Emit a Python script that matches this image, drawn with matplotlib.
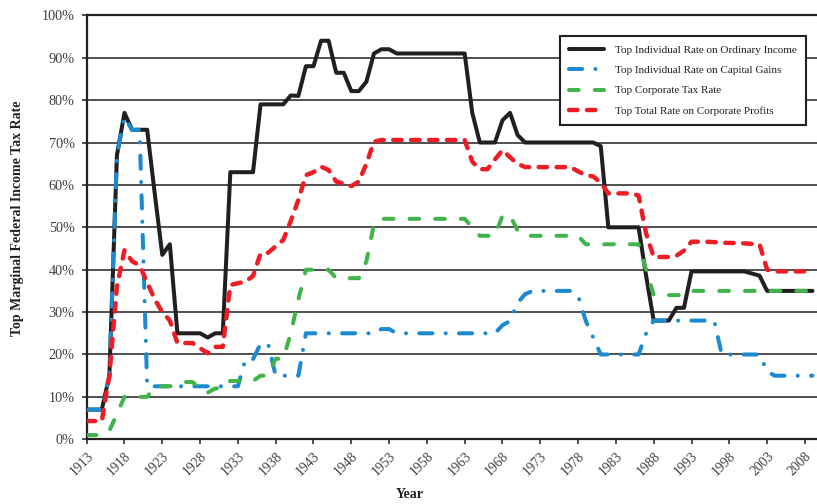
import matplotlib
matplotlib.use("Agg")
import matplotlib.pyplot as plt

plt.rcParams["font.family"] = ["Liberation Serif", "DejaVu Serif"]
plt.rcParams["lines.scale_dashes"] = False

years = list(range(1913, 2010))

# top individual rate on ordinary income, 1913-2009
ordinary = [
    7, 7, 7, 15, 67, 77, 73, 73, 73, 58,                        # 1913-1922
    43.5, 46, 25, 25, 25, 25, 24, 25, 25, 63,                   # 1923-1932
    63, 63, 63, 79, 79, 79, 79, 81.1, 81, 88,                   # 1933-1942
    88, 94, 94, 86.45, 86.45, 82.13, 82.13, 84.36, 91, 92,      # 1943-1952
    92, 91, 91, 91, 91, 91, 91, 91, 91, 91,                     # 1953-1962
    91, 77, 70, 70, 70, 75.25, 77, 71.75, 70, 70,               # 1963-1972
    70, 70, 70, 70, 70, 70, 70, 70, 69.13, 50,                  # 1973-1982
    50, 50, 50, 50, 38.5, 28, 28, 28, 31, 31,                   # 1983-1992
    39.6, 39.6, 39.6, 39.6, 39.6, 39.6, 39.6, 39.6, 39.1, 38.6, # 1993-2002
    35, 35, 35, 35, 35, 35, 35,                                 # 2003-2009
]

# top individual rate on capital gains
cap_gains = [
    7, 7, 7, 15, 67, 76, 73, 73, 12.5, 12.5,
    12.5, 12.5, 12.5, 12.5, 12.5, 12.5, 12.5, 12.5, 12.5, 12.5,
    12.5, 18.9, 18.9, 22.5, 22.5, 15, 15, 15, 15, 25,
    25, 25, 25, 25, 25, 25, 25, 25, 25, 26,
    26, 25, 25, 25, 25, 25, 25, 25, 25, 25,
    25, 25, 25, 25, 25, 26.9, 27.9, 32.2, 34.25, 35,
    35, 35, 35, 35, 35, 33.85, 28, 24, 20, 20,
    20, 20, 20, 20, 25, 28, 28, 28, 28, 28,
    28, 28, 28, 28, 20, 20, 20, 20, 20, 20,
    16, 15, 15, 15, 15, 15, 15,
]

# top corporate tax rate
corporate = [
    1, 1, 1, 2, 6, 10, 10, 10, 10, 12.5,
    12.5, 12.5, 13, 13.5, 13.5, 12, 11, 12, 12, 13.75,
    13.75, 13.75, 13.75, 15, 15, 19, 19, 25, 33, 40,
    40, 40, 40, 38, 38, 38, 38, 42, 50.75, 52,
    52, 52, 52, 52, 52, 52, 52, 52, 52, 52,
    52, 50, 48, 48, 48, 52.8, 52.8, 49.2, 48, 48,
    48, 48, 48, 48, 48, 48, 46, 46, 46, 46,
    46, 46, 46, 46, 40, 34, 34, 34, 34, 34,
    35, 35, 35, 35, 35, 35, 35, 35, 35, 35,
    35, 35, 35, 35, 35, 35, 35,
]

# top total rate on corporate profits
total_corp = [
    4.3, 4.3, 4.3, 15, 36, 44.6, 42, 41, 37, 33,
    30, 28, 22.7, 22.7, 22.7, 21.5, 20.3, 21.8, 21.8, 36.4,
    36.8, 37.2, 38.5, 43.8, 44, 45.5, 47, 51.5, 56.5, 62.3,
    63, 64.3, 63.5, 60.8, 60.3, 59.7, 60.8, 65, 70.2, 70.6,
    70.6, 70.6, 70.6, 70.6, 70.6, 70.6, 70.6, 70.6, 70.6, 70.6,
    70.6, 65.5, 63.7, 63.7, 66, 68.2, 66.5, 65, 64.2, 64.2,
    64.2, 64.2, 64.2, 64.2, 64.2, 63.2, 62.3, 62, 60.5, 58,
    58, 58, 58, 57.5, 48.5, 43, 43, 43, 43.3, 44.5,
    46.6, 46.6, 46.6, 46.5, 46.4, 46.3, 46.3, 46.2, 46.1, 46,
    40, 39.6, 39.6, 39.6, 39.6, 39.6, 39.6,
]

labels = ["Top Individual Rate on Ordinary Income",
          "Top Individual Rate on Capital Gains",
          "Top Corporate Tax Rate",
          "Top Total Rate on Corporate Profits"]

fig = plt.figure(figsize=(8.17, 5.04), dpi=100)
ax = fig.add_axes([0.1061, 0.1284, 0.8939, 0.8412])

ax.plot(years, ordinary, color="#231f20", lw=2.9, solid_capstyle="round",
        solid_joinstyle="round", label=labels[0], zorder=3)
ax.plot(years, cap_gains, color="#1b8ad0", lw=2.9,
        linestyle=(0, (9.5, 9.5, 0.1, 9.5)), dash_capstyle="round",
        dash_joinstyle="round", label=labels[1], zorder=4)
ax.plot(years, corporate, color="#40b44a", lw=2.9,
        linestyle=(0, (7.0, 11.5)), dash_capstyle="round",
        dash_joinstyle="round", label=labels[2], zorder=5)
ax.plot(years, total_corp, color="#ee1c25", lw=3.2,
        linestyle=(0, (6.1, 6.8)), dash_capstyle="round",
        dash_joinstyle="round", label=labels[3], zorder=6)

ax.set_xlim(1913, 2009.6)
ax.set_ylim(0, 100)
ax.set_yticks(range(0, 101, 10))
ax.set_yticklabels([f"{v}%" for v in range(0, 101, 10)], fontsize=10.3,
                   color="#404040")
ax.set_xticks(range(1913, 2009, 5))
ax.set_xticklabels([str(y) for y in range(1913, 2009, 5)], fontsize=9.8,
                   color="#404040", rotation=45, ha="right", va="top",
                   rotation_mode="anchor")
ax.tick_params(axis="both", direction="out", length=3.6, width=1.1,
               color="#231f20")
ax.tick_params(axis="y", pad=5)
ax.tick_params(axis="x", pad=4)

ax.grid(True, axis="y", color="#231f20", lw=1.1)
ax.set_axisbelow(True)
for side in ["left", "top", "bottom"]:
    ax.spines[side].set_color("#231f20")
    ax.spines[side].set_linewidth(1.6)
ax.spines["right"].set_visible(False)

fig.text(410 / 817, 1 - 495 / 504, "Year", fontsize=10, fontweight="bold",
         ha="center", va="center", color="#231f20")
fig.text(18 / 817, 1 - 218 / 504, "Top Marginal Federal Income Tax Rate",
         fontsize=10, fontweight="bold", rotation=90, ha="center",
         va="center", color="#231f20")

leg = ax.legend(loc="upper right", bbox_to_anchor=(0.985, 0.951),
                borderaxespad=0, fontsize=8, frameon=True, fancybox=False,
                framealpha=1, edgecolor="#231f20", handlelength=3.2,
                handletextpad=1.0, labelspacing=0.95, borderpad=0.8)
leg.get_frame().set_linewidth(1.5)
for t in leg.get_texts():
    t.set_color("#231f20")

fig.savefig("out.png", dpi=100)
